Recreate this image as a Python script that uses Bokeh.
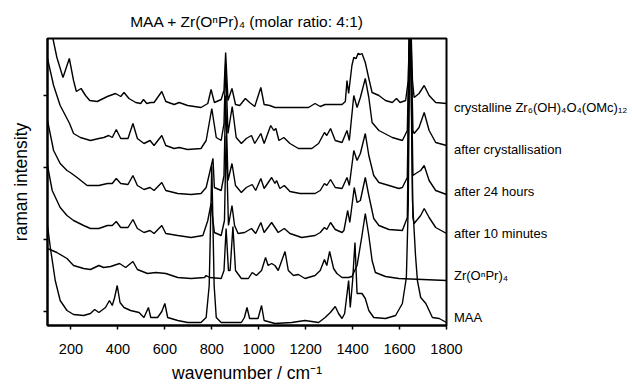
from bokeh.plotting import figure
from bokeh.models import Legend, LegendItem, FixedTicker, CustomJSTickFormatter, Range1d
from bokeh.embed import file_html
from bokeh.resources import INLINE

# (wavenumber / cm^-1, raman intensity in arbitrary, stacked units)
crystalline = [(100, 330), (123, 287), (140, 268), (166, 248), (193, 267), (211, 245), (223, 234),
               (243, 237), (262, 230), (280, 225), (312, 224), (355, 229), (390, 232), (412, 229),
               (426, 233), (447, 227), (476, 223), (497, 222), (509, 226), (523, 222), (540, 223),
               (554, 223), (587, 234), (604, 224), (640, 221), (661, 223), (697, 220), (754, 218),
               (783, 222), (797, 236), (811, 223), (840, 226), (852, 235), (859, 273), (869, 225),
               (886, 237), (901, 221), (919, 220), (943, 227), (961, 223), (983, 219), (1009, 238),
               (1023, 221), (1047, 220), (1069, 218), (1212, 218), (1240, 222), (1262, 219), (1283, 221),
               (1355, 221), (1369, 224), (1376, 245), (1383, 232), (1397, 260), (1405, 268), (1415, 267),
               (1423, 272), (1432, 271), (1440, 272), (1454, 263), (1469, 247), (1483, 233), (1512, 230),
               (1540, 225), (1569, 223), (1587, 227), (1602, 223), (1626, 225), (1637, 245), (1645, 330),
               (1655, 245), (1662, 228), (1683, 232), (1705, 240), (1726, 230), (1754, 223), (1800, 222)]

after_cryst = [(100, 267), (126, 240), (154, 220), (183, 207), (194, 202), (211, 192), (240, 188),
               (283, 185), (319, 187), (340, 188), (361, 190), (376, 188), (393, 196), (412, 187),
               (443, 187), (464, 202), (483, 187), (511, 182), (537, 185), (554, 180), (587, 190),
               (604, 180), (640, 177), (661, 178), (697, 176), (754, 177), (776, 185), (800, 217),
               (819, 188), (840, 185), (852, 202), (859, 262), (869, 192), (887, 219), (904, 188),
               (926, 182), (947, 187), (969, 190), (983, 182), (1009, 192), (1023, 182), (1051, 200),
               (1064, 195), (1073, 197), (1086, 185), (1107, 188), (1133, 182), (1169, 177), (1226, 177),
               (1255, 182), (1280, 193), (1290, 190), (1306, 197), (1326, 185), (1355, 183), (1376, 195),
               (1386, 185), (1405, 230), (1419, 218), (1433, 228), (1454, 247), (1469, 228), (1483, 203),
               (1512, 195), (1569, 188), (1612, 185), (1633, 195), (1645, 330), (1657, 195), (1662, 192),
               (1683, 198), (1705, 213), (1726, 195), (1754, 183), (1800, 180)]

after_24h = [(100, 205), (126, 175), (154, 162), (183, 155), (197, 153), (226, 148), (269, 140),
             (319, 140), (355, 142), (376, 142), (393, 147), (412, 142), (443, 141), (464, 150),
             (483, 140), (511, 136), (537, 138), (554, 135), (587, 143), (604, 135), (655, 132),
             (712, 131), (754, 132), (776, 138), (805, 167), (811, 138), (840, 135), (852, 150),
             (859, 230), (869, 145), (886, 162), (901, 140), (926, 133), (947, 138), (972, 141),
             (987, 135), (1009, 147), (1023, 137), (1055, 148), (1069, 142), (1076, 145), (1090, 137),
             (1109, 140), (1133, 134), (1176, 132), (1240, 132), (1262, 135), (1280, 142), (1290, 140),
             (1306, 146), (1326, 138), (1355, 137), (1376, 148), (1386, 140), (1405, 175), (1419, 165),
             (1433, 172), (1454, 192), (1469, 170), (1490, 150), (1512, 143), (1555, 140), (1597, 137),
             (1612, 138), (1633, 148), (1645, 330), (1657, 150), (1669, 152), (1690, 155), (1705, 160),
             (1726, 145), (1754, 135), (1800, 131)]

after_10min = [(100, 160), (120, 135), (154, 118), (183, 110), (211, 105), (254, 100), (283, 97),
               (319, 97), (355, 100), (376, 100), (393, 104), (412, 98), (443, 98), (464, 106),
               (483, 97), (511, 93), (537, 95), (554, 92), (587, 100), (604, 92), (655, 90),
               (712, 88), (762, 90), (783, 105), (797, 122), (811, 93), (840, 90), (854, 105),
               (861, 190), (871, 100), (886, 120), (897, 100), (912, 92), (940, 93), (969, 97),
               (987, 92), (1009, 103), (1023, 93), (1055, 103), (1069, 98), (1083, 93), (1109, 97),
               (1133, 92), (1183, 88), (1240, 90), (1262, 93), (1280, 98), (1290, 96), (1306, 103),
               (1326, 96), (1355, 93), (1363, 95), (1379, 115), (1388, 103), (1407, 138), (1419, 123),
               (1433, 125), (1454, 148), (1469, 130), (1490, 107), (1512, 100), (1555, 96), (1612, 95),
               (1633, 108), (1645, 330), (1657, 108), (1662, 102), (1690, 110), (1705, 117), (1726, 108),
               (1754, 98), (1800, 92)]

zr_propoxide = [(100, 77), (140, 73), (183, 67), (211, 60), (254, 57), (283, 56), (319, 60),
                (339, 58), (369, 59), (407, 62), (433, 58), (464, 64), (483, 56), (526, 52),
                (562, 53), (604, 52), (655, 48), (712, 47), (769, 48), (776, 50), (790, 48),
                (840, 47), (852, 55), (861, 97), (871, 55), (878, 55), (890, 99), (901, 55),
                (926, 47), (956, 47), (972, 53), (990, 50), (1012, 55), (1029, 68), (1040, 60),
                (1055, 62), (1069, 60), (1083, 55), (1112, 74), (1126, 55), (1148, 50), (1169, 51),
                (1197, 47), (1240, 50), (1262, 55), (1280, 66), (1290, 60), (1302, 74), (1319, 57),
                (1333, 52), (1355, 48), (1383, 48), (1397, 49), (1419, 60), (1440, 90), (1454, 112),
                (1469, 90), (1483, 65), (1497, 53), (1540, 49), (1597, 47), (1800, 45)]

maa = [(100, 100), (112, 78), (133, 45), (154, 25), (183, 15), (211, 11), (254, 10), (283, 12),
       (301, 16), (319, 13), (347, 18), (364, 25), (376, 20), (386, 28), (397, 40), (409, 23),
       (426, 18), (454, 15), (490, 13), (511, 8), (530, 18), (540, 8), (569, 8), (587, 14),
       (600, 22), (612, 8), (655, 5), (697, 3), (754, 3), (776, 8), (789, 40), (800, 160),
       (810, 40), (819, 8), (840, 3), (926, 3), (939, 8), (950, 18), (961, 7), (997, 7),
       (1012, 20), (1023, 5), (1069, 2), (1140, 3), (1197, 5), (1255, 3), (1283, 8), (1305, 13),
       (1326, 19), (1340, 12), (1355, 7), (1366, 12), (1383, 45), (1390, 18), (1400, 45),
       (1410, 83), (1419, 32), (1440, 32), (1454, 27), (1469, 15), (1490, 8), (1540, 7),
       (1583, 10), (1612, 22), (1629, 48), (1637, 120), (1645, 330), (1655, 125), (1668, 70),
       (1676, 45), (1690, 28), (1712, 22), (1726, 15), (1740, 8), (1769, 7), (1800, 3)]

spectra = [crystalline, after_cryst, after_24h, after_10min, zr_propoxide, maa]
labels = ["crystalline Zr\u2086(OH)\u2084O\u2084(OMc)\u2081\u2082", "after crystallisation",
          "after 24 hours", "after 10 minutes", "Zr(O\u207fPr)\u2084", "MAA"]
x_ticks = [200, 400, 600, 800, 1000, 1200, 1400, 1600, 1800]
y_ticks = [14, 86, 158, 230]

FONT = "Liberation Sans"

p = figure(width=632, height=386, frame_width=399, frame_height=287,
           output_backend="svg", toolbar_location=None,
           x_range=Range1d(100, 1800), y_range=Range1d(0, 287),
           min_border_left=47, min_border_right=186, min_border_top=38, min_border_bottom=61,
           title="MAA + Zr(O\u207fPr)\u2084 (molar ratio: 4:1)")
p.title.align = "center"
p.title.text_font = FONT
p.title.text_font_size = "15.5px"
p.title.text_font_style = "normal"
p.title.text_color = "black"
p.title.standoff = 17

p.grid.visible = False
p.outline_line_color = "black"
p.outline_line_width = 2
p.background_fill_color = "white"
p.border_fill_color = "white"

for ax in (p.xaxis, p.yaxis):
    ax.axis_line_width = 2
    ax.axis_line_color = "black"
    ax.major_tick_line_color = "black"
    ax.major_tick_line_width = 1.5
    ax.major_tick_out = 4
    ax.major_tick_in = 0
    ax.minor_tick_line_color = None
    ax.major_label_text_font = FONT
    ax.major_label_text_color = "black"
    ax.axis_label_text_font = FONT
    ax.axis_label_text_font_style = "normal"
    ax.axis_label_text_color = "black"
    ax.axis_label_text_font_size = "17.5px"

p.xaxis.ticker = FixedTicker(ticks=x_ticks)
p.xaxis.major_label_text_font_size = "14.5px"
p.xaxis.major_label_standoff = 14
p.xaxis.axis_label = "wavenumber / cm\u207b\u00b9"
p.xaxis.axis_label_standoff = 6

p.yaxis.ticker = FixedTicker(ticks=y_ticks)
p.yaxis.formatter = CustomJSTickFormatter(code="return ''")
p.yaxis.major_label_standoff = 0
p.yaxis.axis_label = "raman intensity"
p.yaxis.axis_label_standoff = 13

renderers = []
for spec in spectra:
    xs = [a for a, b in spec]
    ys = [b for a, b in spec]
    renderers.append(p.line(xs, ys, line_color="black", line_width=1.4))

# curve names, written to the right of the frame, one row per spectrum
items = [LegendItem(label=txt, renderers=[r]) for txt, r in zip(labels, renderers)]
legend = Legend(items=items, location=(7, -13), orientation="vertical",
                margin=0, padding=0, spacing=0, glyph_width=0, glyph_height=42,
                label_height=42, label_standoff=1, label_text_font=FONT,
                label_text_font_size="13px", label_text_color="black",
                label_text_baseline="middle", border_line_color=None,
                background_fill_alpha=0, click_policy="none")
p.add_layout(legend, "right")

open("out.html", "w").write(file_html(p, INLINE))
